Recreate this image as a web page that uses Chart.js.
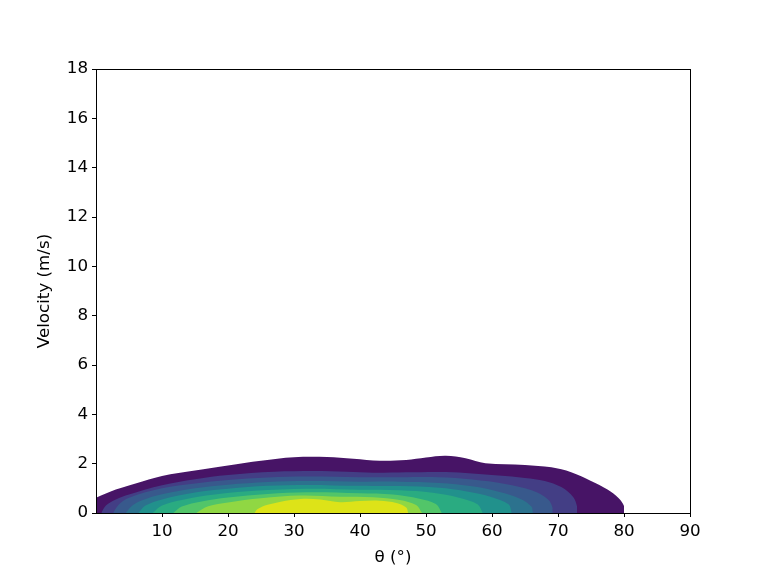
<!DOCTYPE html>
<html>
<head>
<meta charset="utf-8">
<script src="https://cdn.jsdelivr.net/npm/chart.js@4/dist/chart.umd.min.js"></script>
<style>
  body { margin: 0; background: #fff; }
</style>
</head>
<body>
<canvas id="kde-chart" width="768" height="576"></canvas>
<script>
// contour band outlines (theta in degrees, velocity in m/s), outermost first
let band1 = [[0,0.62],[3,0.95],[6,1.2],[10,1.5],[15,1.72],[20,1.93],[25,2.12],[30,2.26],[35,2.27],[39,2.2],[43,2.12],[47,2.15],[50,2.25],[53,2.32],[56,2.22],[59,2.02],[65,1.95],[69,1.85],[72,1.65],[75,1.3],[77.5,0.95],[79.2,0.6],[80,0.28],[80,0]]
let band2 = [[0.8,0],[1.5,0.3],[3,0.55],[5,0.75],[10,1.13],[15,1.37],[20,1.54],[27,1.67],[33,1.7],[38,1.67],[42,1.63],[47,1.65],[53,1.66],[57,1.6],[61,1.52],[65,1.42],[68,1.3],[70.5,1.05],[72.3,0.65],[72.9,0.25],[72.9,0]]
let band3 = [[2.6,0],[3.5,0.35],[5,0.62],[10,1.0],[15,1.2],[20,1.34],[26,1.44],[32,1.48],[40,1.45],[46,1.45],[52,1.45],[57,1.36],[62,1.18],[66,0.92],[68.5,0.55],[69.2,0.2],[69.2,0]]
let band4 = [[4.5,0],[5.5,0.3],[7,0.52],[10,0.76],[15,1.0],[20,1.15],[26,1.26],[32,1.3],[40,1.27],[46,1.27],[52,1.22],[57,1.08],[61,0.86],[64.5,0.55],[66,0.25],[66.2,0]]
let band5 = [[6.4,0],[7.5,0.3],[10,0.55],[15,0.83],[20,0.98],[26,1.1],[32,1.14],[40,1.1],[46,1.09],[52,1.02],[56,0.88],[60,0.64],[62.5,0.35],[63,0]]
let band6 = [[8.6,0],[10,0.3],[13,0.53],[18,0.75],[24,0.9],[32,0.98],[40,0.94],[46,0.92],[51,0.82],[55,0.62],[57.8,0.35],[58.6,0]]
let band7 = [[11.7,0],[13,0.26],[16,0.47],[20,0.63],[26,0.77],[32,0.84],[40,0.8],[45,0.75],[49,0.58],[51.5,0.36],[52.4,0]]
let band8 = [[15.2,0],[17,0.27],[20,0.43],[25,0.6],[31,0.71],[37,0.66],[42,0.64],[46,0.53],[48.5,0.32],[49.4,0]]
let band9 = [[24,0],[24.5,0.16],[26,0.33],[28,0.46],[31,0.57],[34,0.55],[37,0.44],[40,0.49],[43,0.5],[45.5,0.41],[47,0.22],[47.3,0]]

let bands = [band1, band2, band3, band4, band5, band6, band7, band8, band9]
let bandColors = ["#471466", "#433e85", "#38598c", "#2c728e", "#21918c", "#2aab81", "#52c569", "#90d743", "#dde318"]

let xTicks = [10, 20, 30, 40, 50, 60, 70, 80, 90]

// black box around the plot area (matplotlib spines)
const frame = {
    id: "frame",
    afterDraw(chart) {
        const a = chart.chartArea
        const ctx = chart.ctx
        ctx.save()
        ctx.strokeStyle = "#000"
        ctx.lineWidth = 1
        ctx.strokeRect(a.left + 0.5, a.top + 0.5, a.right - a.left, a.bottom - a.top)
        ctx.restore()
    }
}

Chart.defaults.font.family = "'DejaVu Sans', sans-serif"
Chart.defaults.font.size = 16.7
Chart.defaults.color = "#000"

new Chart("kde-chart", {
    type: "scatter",
    data: {
        datasets: bands.map((b, i) => ({
            data: b.map(p => ({x: p[0], y: p[1]})),
            showLine: true,
            fill: "origin",
            backgroundColor: bandColors[i],
            borderColor: bandColors[i],
            borderWidth: 0,
            pointRadius: 0,
            tension: 0.35,
            order: bands.length - i
        }))
    },
    options: {
        responsive: false,
        animation: false,
        layout: {padding: {left: 35, right: 78, top: 69, bottom: 0}},
        plugins: {
            legend: {display: false},
            tooltip: {enabled: false}
        },
        scales: {
            x: {
                type: "linear",
                min: 0,
                max: 90,
                afterBuildTicks: s => { s.ticks = xTicks.map(v => ({value: v})) },
                afterFit: s => { s.height = 63 },
                grid: {drawOnChartArea: false, tickLength: 4, color: "#000"},
                border: {color: "#000"},
                ticks: {padding: 5},
                title: {display: true, text: "θ (°)", padding: {top: 8, bottom: 8}}
            },
            y: {
                min: 0,
                max: 18,
                ticks: {stepSize: 2, padding: 4},
                afterFit: s => { s.width = 61 },
                grid: {drawOnChartArea: false, tickLength: 4, color: "#000"},
                border: {color: "#000"},
                title: {display: true, text: "Velocity (m/s)", padding: {top: 0, bottom: 0}}
            }
        }
    },
    plugins: [frame]
})
</script>
</body>
</html>
